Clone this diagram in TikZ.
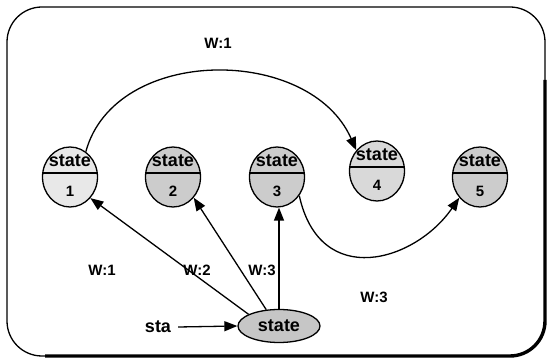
\documentclass[tikz,border=0pt]{standalone}
\usepackage{fontspec}
\setmainfont{Liberation Sans}
\usetikzlibrary{arrows.meta,shapes.geometric}
\begin{document}
\begin{tikzpicture}[x=1pt,y=-1pt,
  stnode/.style={ellipse,draw,line width=1.3pt,fill=gray!40,minimum width=55pt,minimum height=60pt,inner sep=0pt},
  lbl/.style={font=\bfseries\fontsize{18pt}{18pt}\selectfont,inner sep=0pt},
  num/.style={font=\bfseries\fontsize{15pt}{15pt}\selectfont,inner sep=0pt},
  wl/.style={font=\bfseries\fontsize{15pt}{15pt}\selectfont,inner sep=0pt},
  conn/.style={line width=1.3pt,-{Triangle[length=13pt,width=10pt]}},
  divider/.style={line width=1.3pt},
]
\useasboundingbox (0,0) rectangle (550,363);
% frame
\draw[line width=1.3pt, rounded corners=35pt] (7,7) rectangle (545,356);
\draw[line width=3.4pt, rounded corners=35pt] (545,80) -- (545,356) -- (45,356);

% state nodes
\node[stnode,fill=gray!18] (n1) at (70,177) {};
\node[stnode] (n2) at (173,177) {};
\node[stnode] (n3) at (277,177) {};
\node[stnode,fill=gray!30] (n4) at (377,171) {};
\node[stnode] (n5) at (480,177) {};
\foreach \n/\k in {n1/1,n2/2,n3/3,n4/4,n5/5}{
  \draw[divider] ([yshift=4pt]\n.west) -- ([yshift=4pt]\n.east);
  \node[lbl] (\n t) at ([yshift=16pt]\n.center) {state};
  \node[num] (\n k) at ([yshift=-14pt]\n.center) {\k};
}

% start state
\node[ellipse,draw,line width=1.3pt,fill=gray!45,minimum width=82pt,minimum height=33pt,inner sep=0pt,lbl] (s) at (279,326) {state};
\node[lbl,inner xsep=7pt] (sta) at (158,327) {sta};
\draw[conn] (sta.east) -- (s.west);

% connectors
\draw[conn] (s.159) -- (n1.-46);
\draw[conn] (s.128) -- (n2.-45);
\draw[conn] (s.north) -- (s.north |- n3.south);
\draw[conn] (n3.-40) .. controls (320,290) and (415,262) .. (n5.-135);
\draw[conn] (n1.58) .. controls (115,45) and (310,45) .. (n4.135);

% labels
\node[wl] (w1) at (218,43) {W:1};
\node[wl] (w2) at (102,270) {W:1};
\node[wl] (w3) at (197,270) {W:2};
\node[wl] (w4) at (262,270) {W:3};
\node[wl] (w5) at (374,297) {W:3};
\end{tikzpicture}
\end{document}
